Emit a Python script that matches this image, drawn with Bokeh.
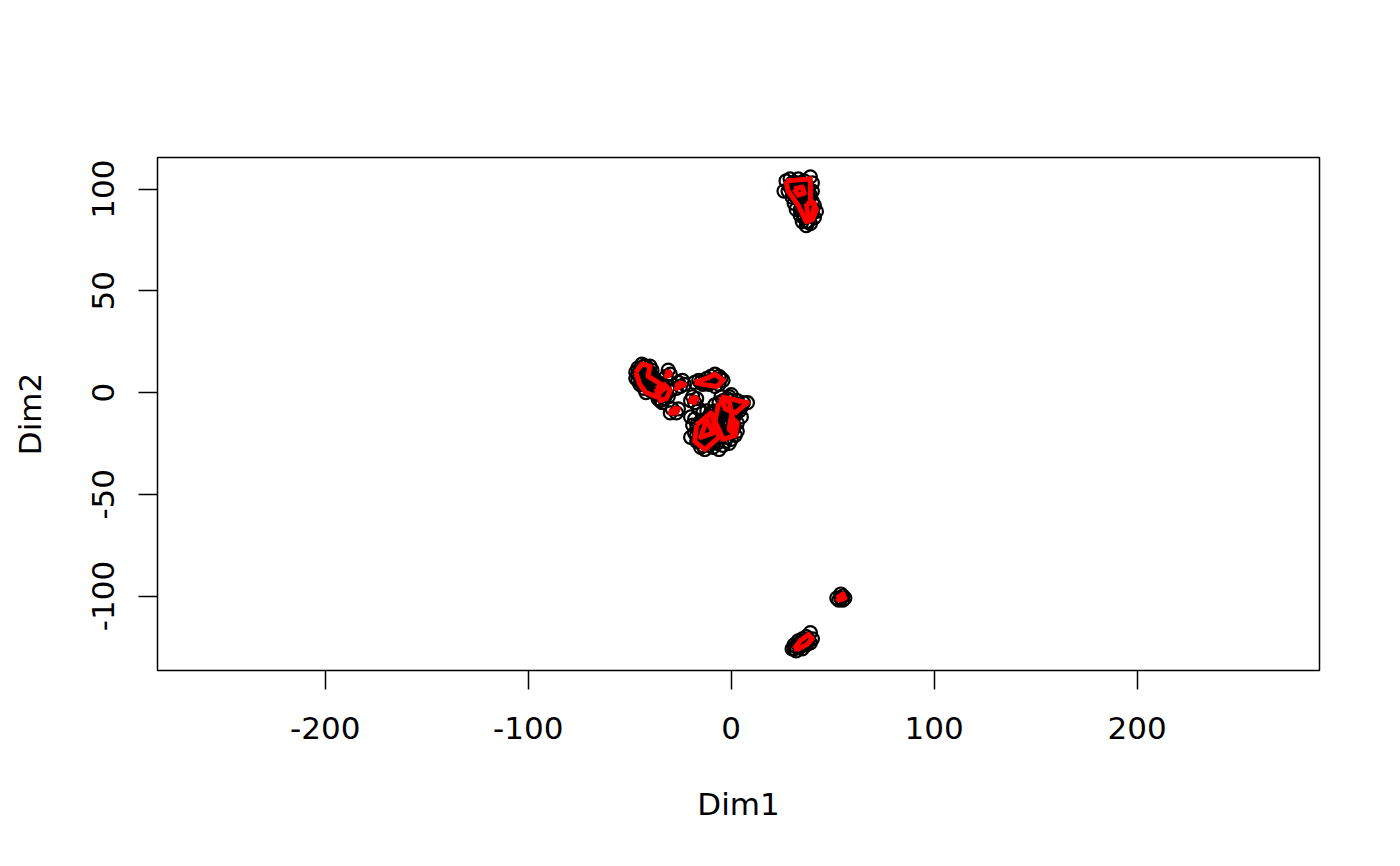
from bokeh.plotting import figure
from bokeh.models import Range1d, FixedTicker, ColumnDataSource
from bokeh.embed import file_html
from bokeh.resources import INLINE

# ---------------- data (Dim1, Dim2) ----------------
a_x = [-47, -46, -44, -42, -40, -45, -43, -41, -40, -38, -36, -44, -42, -39, -35, -34, -37, -40, -43, -45, -33, -42, -38, -46,
       -46, -44, -42, -39, -44, -41, -39, -37, -41, -38, -36, -47, -45, -43, -40, -43, -40, -38]
a_y = [10, 12, 14, 13, 13, 8, 9, 10, 8, 7, 5, 5, 6, 4, 3, 1, 0, 1, 2, 4, 2, 0, 2, 6,
       9, 11, 11, 11, 7, 6, 6, 4, 3, 0, 2, 7, 11, 13, 10, 4, 3, 5]
b_x = [-37, -34, -31, -30, -32, -33, -35, -36, -34, -31, -31, -30, -32, -33, -35, -33, -36]
b_y = [2, 4, 3, 1, -1, -3, -4, -1, -5, -2, 11, 9, 8, 1, 1, -1, -3]
c_x = [-26, -24, -23, -25, -27, -29, -27, -26, -30, -19, -17, -18, -20]
c_y = [5, 6, 4, 3, 2, -8, -10, -8, -10, -2, -3, -5, -4]
f_x = [-18, -16, -12, -10, -8, -5, -4, -6, -8, -11, -14, -9, -13, -15, -12, -10, -7, -6, -10]
f_y = [5, 6, 7, 8, 9, 7, 6, 4, 3, 4, 4, 6, 5, 5, 5, 6, 6, 8, 5]
g_x = [-5, -2, 0, 3, 8, 5, 2, 0, -3, -6, -8, -10, -9, -12, -15, -17, -18, -17, -14, -13, -11, -8, -6, -5, -7, -10,
       -13, -15, -12, -3, -1, 1, 2, 0, -2, -3, 1, -4, -1, -14, -16, -20, -19, -20, -16, -11, -8, -4, -9, 3, 2, 5,
       -6, -4, 0, 4, 6, -2, -7, -10, -14, -16, -15, -10, -7, -5, -2, 0, -1, -6, -18, -12, -4, 4, 1, -9,
       -13, -11, -8, -6, -3, -1, 2, -9, -12, -15, -17, -11, -3, 1, 3, -6, -2]
g_y = [-2, -3, -1, -4, -5, -7, -9, -12, -8, -5, -6, -10, -12, -13, -14, -16, -20, -24, -26, -28, -26, -24, -22, -19,
       -16, -18, -20, -22, -23, -14, -16, -18, -21, -23, -22, -19, -13, -11, -7, -10, -8, -12, -16, -22, -19, -15,
       -20, -26, -27, -15, -11, -12,
       -9, -4, -4, -6, -5, -10, -11, -14, -17, -24, -27, -22, -25, -15, -13, -20, -25, -28, -13, -9, -17, -9, -15, -16,
       -15, -12, -9, -13, -6, -2, -6, -22, -25, -19, -21, -20, -24, -10, -19, -18, -16]
t_x = [27, 29, 33, 36, 39, 40, 38, 39, 40, 41, 42, 41, 39, 37, 35, 34, 32, 31, 30, 28, 26, 31, 34, 36, 37, 38, 36,
       33, 35, 32, 39, 30, 35, 37, 30, 33, 36, 34, 35, 37, 38, 39, 40, 36, 35, 32, 29, 38, 40,
       31, 33, 34, 37, 38, 36, 34, 37, 40, 38, 32]
t_y = [104, 105, 105, 104, 106, 103, 100, 97, 94, 92, 89, 86, 83, 82, 84, 87, 90, 93, 96, 99, 99, 101, 98, 95, 91,
       88, 89, 95, 101, 98, 90, 103, 103, 102, 99, 101, 100, 94, 92, 96, 93, 87, 90, 86, 88, 96, 101, 98, 99,
       97, 99, 103, 98, 95, 92, 90, 84, 88, 84, 103]
u_x = [30, 32, 34, 33, 35, 37, 39, 40, 39, 37, 35, 31, 36, 38, 32, 34, 36, 38, 33, 35, 31, 37,
       52, 54, 56, 55, 53, 54, 55]
u_y = [-126, -127, -125, -122, -121, -120, -118, -121, -123, -124, -124, -124, -122, -121, -125, -123, -123, -122, -124,
       -126, -126, -122,
       -101, -99, -101, -102, -102, -101, -100]

# hull outlines (red)
hulls_x = [
    [-47, -44, -40, -41, -36, -33, -37, -42, -45],
    [-37, -33, -30, -32, -35],
    [-31, -30, -32],
    [-26, -23, -25, -27],
    [-29, -26, -27, -30],
    [-19, -17, -18, -20],
    [-18, -12, -8, -4, -7, -14],
    [-5, 8, 2, -3],
    [-17, -10, -6, -13, -18],
    [-6, -1, 2, -4, -8],
    [-12, -9, -15],
    [0, 3, 2, -1],
    [27, 39, 39, 42, 40, 37, 33, 28],
    [31, 35, 36, 33],
    [37, 41, 40, 38],
    [31, 34, 38, 40, 37, 33],
    [52, 55, 56, 53],
]
hulls_y = [
    [10, 14, 13, 8, 5, 2, -2, 0, 4],
    [2, 4, 1, -3, -4],
    [11, 9, 8],
    [5, 4, 3, 2],
    [-8, -8, -10, -10],
    [-2, -3, -5, -4],
    [5, 7, 9, 6, 3, 4],
    [-2, -5, -10, -8],
    [-16, -10, -22, -28, -24],
    [-5, -4, -21, -23, -14],
    [-13, -20, -22],
    [-12, -15, -21, -18],
    [104, 105, 95, 90, 85, 84, 92, 99],
    [100, 101, 98, 97],
    [93, 93, 87, 86],
    [-126, -122, -119, -121, -124, -126],
    [-101, -99, -101, -102],
]

x_ticks = [-200, -100, 0, 100, 200]
y_ticks = [-100, -50, 0, 50, 100]

# ---------------- figure ----------------
FONT = "DejaVu Sans"
p = figure(width=1384, height=850, output_backend="svg", toolbar_location=None,
           x_range=Range1d(-282.6, 289.8), y_range=Range1d(-136.6, 115.5),
           min_border_left=157, min_border_right=65, min_border_top=157, min_border_bottom=180,
           background_fill_color="white", border_fill_color="white")
p.grid.visible = False
p.outline_line_color = "black"
p.outline_line_width = 1.5

all_x = a_x + b_x + c_x + f_x + g_x + t_x + u_x
all_y = a_y + b_y + c_y + f_y + g_y + t_y + u_y
src = ColumnDataSource(dict(x=all_x, y=all_y))
p.scatter("x", "y", source=src, marker="circle", size=13, fill_color=None,
          line_color="black", line_width=2.2)

closed_x = [hx + [hx[0]] for hx in hulls_x]
closed_y = [hy + [hy[0]] for hy in hulls_y]
p.multi_line(closed_x, closed_y, line_color="red", line_width=5, line_join="round")

for ax in (p.xaxis[0], p.yaxis[0]):
    ax.axis_line_color = None
    ax.major_tick_out = 19
    ax.major_tick_in = 0
    ax.minor_tick_out = 0
    ax.minor_tick_in = 0
    ax.major_tick_line_width = 1.5
    ax.major_label_text_font = FONT
    ax.major_label_text_font_size = "31px"
    ax.major_label_text_color = "black"
    ax.axis_label_text_font = FONT
    ax.axis_label_text_font_size = "31px"
    ax.axis_label_text_font_style = "normal"
    ax.axis_label_text_color = "black"

p.xaxis.ticker = FixedTicker(ticks=x_ticks)
p.yaxis.ticker = FixedTicker(ticks=y_ticks)
p.xaxis.major_label_overrides = {t: str(t) for t in x_ticks}
p.yaxis.major_label_overrides = {t: str(t) for t in y_ticks}
p.xaxis.axis_label = "Dim1"
p.yaxis.axis_label = "Dim2"
p.yaxis.major_label_orientation = "vertical"
p.xaxis.major_label_standoff = 27
p.xaxis.axis_label_standoff = 44
p.yaxis.major_label_standoff = 24
p.yaxis.axis_label_standoff = 42

open("out.html", "w").write(file_html(p, INLINE))
